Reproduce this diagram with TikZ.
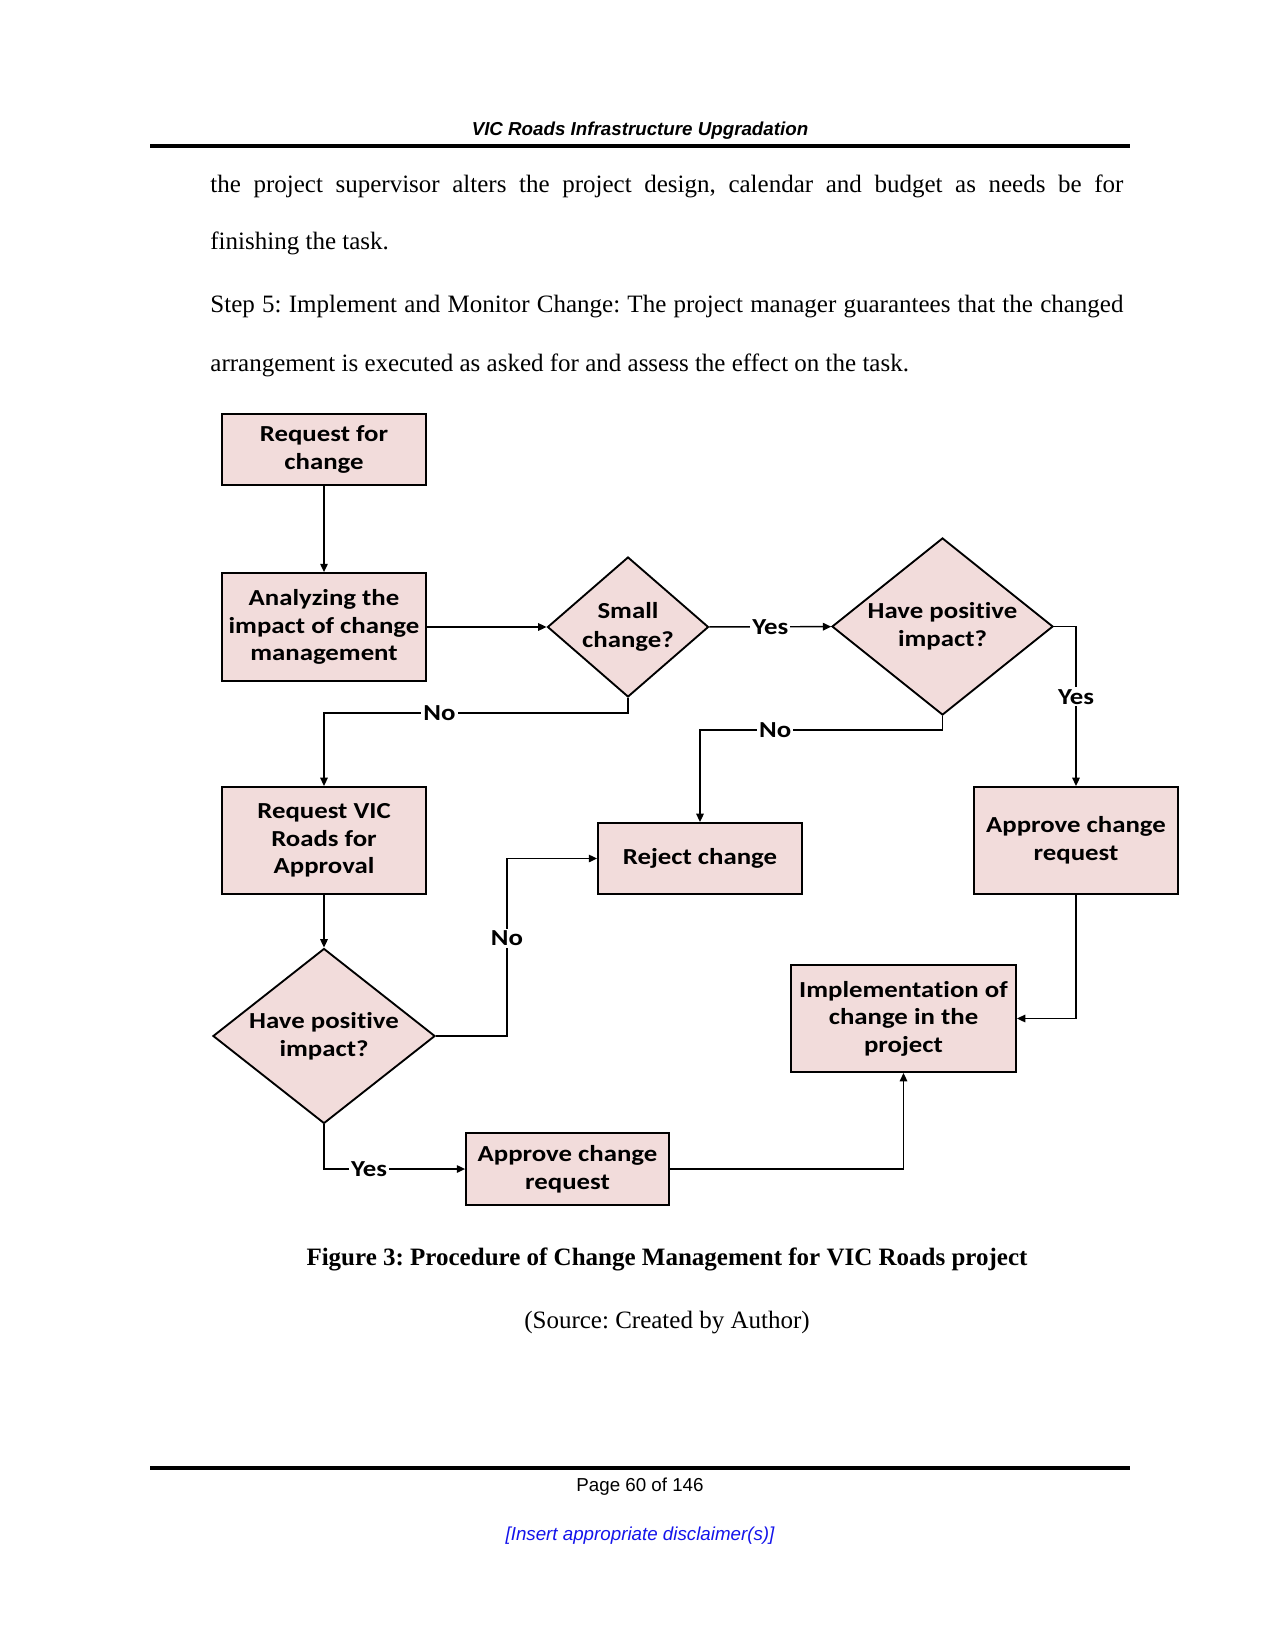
\documentclass[tikz,border=0pt]{standalone}
\usepackage{fontspec}
\setmainfont{Liberation Serif}
\newfontfamily\hdrfont{Liberation Sans}
\newfontfamily\boxfont[FakeStretch=1.17,Ligatures=NoCommon]{Carlito}
\usetikzlibrary{arrows.meta,positioning,shapes.geometric}
\definecolor{rosybox}{RGB}{242,220,219}
\definecolor{discblue}{RGB}{20,20,235}
\newdimen\pxu \pxu=0.48pt
\frenchspacing
\tikzset{
  proc/.style={
    draw=black,
    line width=0.9pt,
    fill=rosybox,
    align=center,
    inner sep=1pt,
    minimum width=97.9pt,
    font=\boxfont\bfseries\fontsize{11}{13.2}\selectfont
  },
  decision/.style={
    diamond,
    draw=black,
    line width=0.9pt,
    fill=rosybox,
    inner sep=0pt
  },
  dtext/.style={
    align=center,
    font=\boxfont\bfseries\fontsize{11}{13.6}\selectfont
  },
  arrow/.style={
    -{Triangle[length=4pt,width=3.6pt]},
    line width=0.7pt
  },
  lbl/.style={
    fill=white,
    inner sep=1pt,
    font=\boxfont\bfseries\fontsize{11}{13}\selectfont
  },
  bodyline/.style={
    anchor=west,
    inner sep=0pt,
    font=\fontsize{12}{14}\selectfont
  }
}

\begin{document}
\begin{tikzpicture}[x=0.48pt,y=-0.48pt]
\fill[white] (0,0) rectangle (1275,1650);
\useasboundingbox (0,0) rectangle (1275,1650);

\node[inner sep=0pt,font=\hdrfont\bfseries\itshape\fontsize{9}{11}\selectfont] (hdr) at (640,131) {VIC Roads Infrastructure Upgradation};
\draw[line width=1.5pt] (150,146) -- (1130,146);

\node[bodyline] (l1) at (210,186) {\makebox[913\pxu][s]{the project supervisor alters the project design, calendar and budget as needs be for}};
\node[bodyline] (l2) at (210,243) {finishing the task.};
\node[bodyline] (l3) at (210,307) {\makebox[913\pxu][s]{Step 5: Implement and Monitor Change: The project manager guarantees that the changed}};
\node[bodyline] (l4) at (210,365) {arrangement is executed as asked for and assess the effect on the task.};

\node[proc,minimum height=34.1pt] (a) at (324,449.5) {Request for\\change};
\node[proc,minimum height=51.8pt] (b) at (324,627) {Analyzing the\\impact of change\\management};
\node[decision,minimum width=77.3pt,minimum height=67.2pt,label={[dtext]center:Small\\change?}] (c) at (628,627) {};
\node[decision,minimum width=106.1pt,minimum height=85pt,label={[dtext]center:Have positive\\impact?}] (d) at (942.5,626.5) {};
\node[proc,minimum height=51.4pt] (e) at (1076,840.5) {Approve change\\request};
\node[proc,minimum height=34.1pt] (f) at (700,858.5) {Reject change};
\node[proc,minimum height=51.4pt] (g) at (324,840.5) {Request VIC\\Roads for\\Approval};
\node[decision,minimum width=106.6pt,minimum height=84pt,label={[dtext]center:Have positive\\impact?}] (h) at (324,1036) {};
\node[proc,minimum width=97.4pt,minimum height=34.6pt] (i) at (567.5,1169) {Approve change\\request};
\node[proc,minimum width=108pt,minimum height=51.4pt] (j) at (903.5,1018.5) {Implementation of\\change in the\\project};

\draw[arrow] (a) -- (b);
\draw[arrow] (b) -- (c);
\draw[arrow] (c) -- node[lbl] {Yes} (d);
\draw[arrow] (c.south) -- ++(0,15) -| node[lbl,pos=0.31] {No} (g.north);
\draw[arrow] (d.east) -| node[lbl,pos=0.72] {Yes} (e.north);
\draw[arrow] (d.south) -- ++(0,14) -| node[lbl,pos=0.345] {No} (f.north);
\draw[arrow] (g) -- (h);
\draw[arrow] (h.east) -- ++(71,0) |- node[lbl,pos=0.275] {No} (f.west);
\draw[arrow] (h.south) |- node[lbl,pos=0.66] {Yes} (i.west);
\draw[arrow] (e.south) |- (j.east);
\draw[arrow] (i.east) -| (j.south);

\node[inner sep=0pt,font=\bfseries\fontsize{12}{14}\selectfont] (cap) at (667,1259) {Figure 3: Procedure of Change Management for VIC Roads project};
\node[inner sep=0pt,font=\fontsize{12}{14}\selectfont] (src) at (667,1323) {(Source: Created by Author)};

\draw[line width=1.5pt] (150,1468) -- (1130,1468);
\node[inner sep=0pt,font=\hdrfont\fontsize{9}{11}\selectfont] (pg) at (640,1487) {Page 60 of 146};
\node[inner sep=0pt,text=discblue,font=\hdrfont\itshape\fontsize{9}{11}\selectfont] (disc) at (640,1536) {[Insert appropriate disclaimer(s)]};
\end{tikzpicture}
\end{document}
